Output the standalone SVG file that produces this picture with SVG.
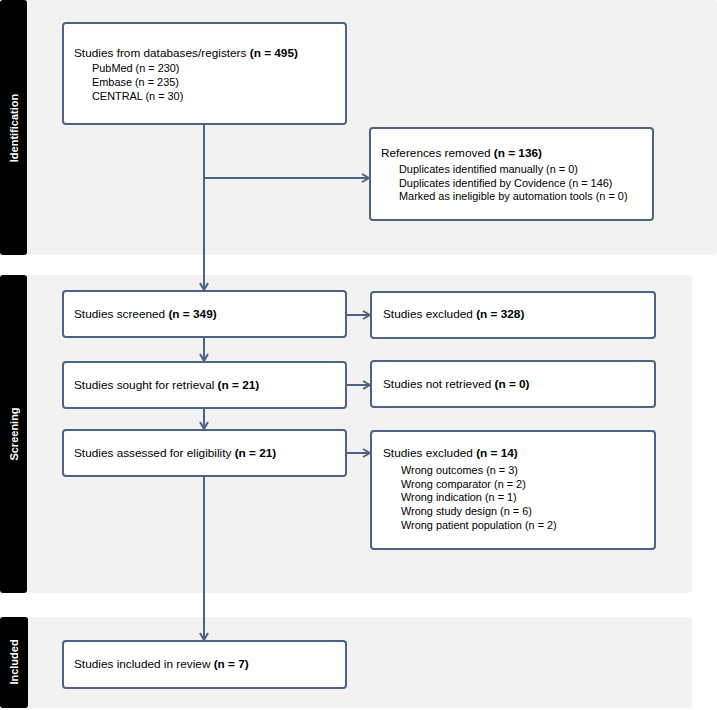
<svg xmlns="http://www.w3.org/2000/svg" width="717" height="710" viewBox="0 0 717 710">
<style>
.panel{fill:#f2f2f2}
.band{fill:#000}
.box{fill:#fff;stroke:#4d6386;stroke-width:2}
.conn{stroke:#4d6386;stroke-width:2;fill:none}
text{font-family:"Liberation Sans",Arial,sans-serif;fill:#000}
.t{font-size:11.8px}
.s{font-size:10.9px}
.b{font-weight:bold}
.lab{font-size:11px;font-weight:bold;fill:#fff;text-anchor:middle}
</style>
<defs>
<marker id="arr" viewBox="0 0 10 10" refX="9" refY="5" markerWidth="10" markerHeight="10" markerUnits="userSpaceOnUse" orient="auto">
<path d="M2,1 L9,5 L2,9" fill="none" stroke="#4d6386" stroke-width="2"/>
</marker>
</defs>
<rect width="717" height="710" fill="#fff"/>
<g id="phase-identification">
<rect class="panel" x="20" y="0" width="697" height="255" rx="4"/>
<rect class="band" x="0" y="0" width="27" height="255" rx="3"/>
<text class="lab" transform="translate(17.5,128) rotate(-90)">Identification</text>
</g>
<g id="phase-screening">
<rect class="panel" x="20" y="275" width="672" height="318" rx="4"/>
<rect class="band" x="0" y="275" width="27" height="318" rx="3"/>
<text class="lab" transform="translate(17.5,434) rotate(-90)">Screening</text>
</g>
<g id="phase-included">
<rect class="panel" x="20" y="617" width="672" height="91" rx="4"/>
<rect class="band" x="0" y="617" width="28" height="91" rx="3"/>
<text class="lab" transform="translate(17.5,662) rotate(-90)">Included</text>
</g>
<g id="connectors">
<path class="conn" d="M204,124 V290" marker-end="url(#arr)"/>
<path class="conn" d="M204,178 H369" marker-end="url(#arr)"/>
<path class="conn" d="M204,337 V361" marker-end="url(#arr)"/>
<path class="conn" d="M204,408 V429" marker-end="url(#arr)"/>
<path class="conn" d="M204,476 V640" marker-end="url(#arr)"/>
<path class="conn" d="M346,315 H370" marker-end="url(#arr)"/>
<path class="conn" d="M346,385 H370" marker-end="url(#arr)"/>
<path class="conn" d="M346,453 H370" marker-end="url(#arr)"/>
</g>
<g id="node-databases">
<rect class="box" x="63" y="23" width="283" height="101" rx="3"/>
<text class="t" x="74" y="57">Studies from databases/registers <tspan class="b">(n = 495)</tspan></text>
<text class="s" x="92" y="72">PubMed (n = 230)</text>
<text class="s" x="92" y="86">Embase (n = 235)</text>
<text class="s" x="92" y="100">CENTRAL (n = 30)</text>
</g>
<g id="node-removed">
<rect class="box" x="370" y="128" width="283" height="92" rx="3"/>
<text class="t" x="381" y="157">References removed <tspan class="b">(n = 136)</tspan></text>
<text class="s" x="399" y="173">Duplicates identified manually (n = 0)</text>
<text class="s" x="399" y="186.5">Duplicates identified by Covidence (n = 146)</text>
<text class="s" x="399" y="200">Marked as ineligible by automation tools (n = 0)</text>
</g>
<g id="node-screened">
<rect class="box" x="63" y="291" width="283" height="46" rx="3"/>
<text class="t" x="74" y="318">Studies screened <tspan class="b">(n = 349)</tspan></text>
</g>
<g id="node-excluded1">
<rect class="box" x="371" y="292" width="284" height="46" rx="3"/>
<text class="t" x="383" y="318">Studies excluded <tspan class="b">(n = 328)</tspan></text>
</g>
<g id="node-sought">
<rect class="box" x="63" y="362" width="283" height="46" rx="3"/>
<text class="t" x="74" y="389">Studies sought for retrieval <tspan class="b">(n = 21)</tspan></text>
</g>
<g id="node-notretrieved">
<rect class="box" x="371" y="361" width="284" height="46" rx="3"/>
<text class="t" x="383" y="388">Studies not retrieved <tspan class="b">(n = 0)</tspan></text>
</g>
<g id="node-assessed">
<rect class="box" x="63" y="430" width="283" height="46" rx="3"/>
<text class="t" x="74" y="457">Studies assessed for eligibility <tspan class="b">(n = 21)</tspan></text>
</g>
<g id="node-excluded2">
<rect class="box" x="371" y="431" width="284" height="118" rx="3"/>
<text class="t" x="383" y="457">Studies excluded <tspan class="b">(n = 14)</tspan></text>
<text class="s" x="401" y="474">Wrong outcomes (n = 3)</text>
<text class="s" x="401" y="487.5">Wrong comparator (n = 2)</text>
<text class="s" x="401" y="501">Wrong indication (n = 1)</text>
<text class="s" x="401" y="515">Wrong study design (n = 6)</text>
<text class="s" x="401" y="529">Wrong patient population (n = 2)</text>
</g>
<g id="node-included">
<rect class="box" x="63" y="641" width="283" height="47" rx="3"/>
<text class="t" x="74" y="668">Studies included in review <tspan class="b">(n = 7)</tspan></text>
</g>
</svg>
